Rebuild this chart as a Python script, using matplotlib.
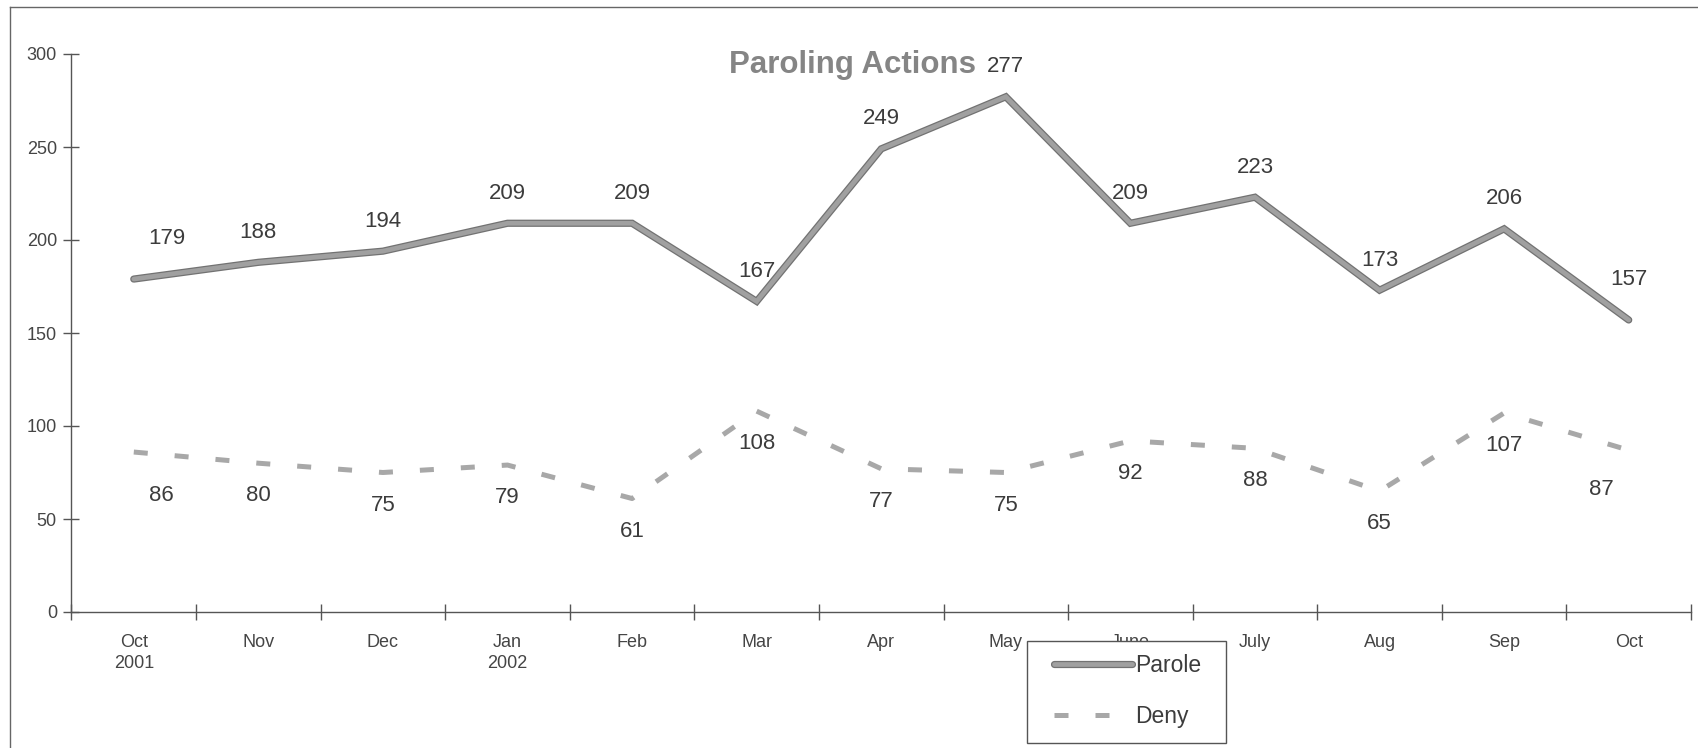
import matplotlib
matplotlib.use("Agg")
import matplotlib.pyplot as plt
import matplotlib.patheffects as pe
from matplotlib.lines import Line2D
from matplotlib.patches import Rectangle

plt.rcParams['font.family'] = ['Liberation Sans', 'DejaVu Sans']

months = ["Oct\n2001", "Nov", "Dec", "Jan\n2002", "Feb", "Mar", "Apr",
          "May", "June", "July", "Aug", "Sep", "Oct"]
parole = [179, 188, 194, 209, 209, 167, 249, 277, 209, 223, 173, 206, 157]
deny = [86, 80, 75, 79, 61, 108, 77, 75, 92, 88, 65, 107, 87]

W, H = 1699, 748
fig = plt.figure(figsize=(W / 100, H / 100), dpi=100)
ax = fig.add_axes([71.5 / W, 1 - 612 / H, (1691 - 71.5) / W, (612 - 54) / H])

x = list(range(len(months)))
lp, = ax.plot(x, parole, color='#a0a0a0', lw=3.4, solid_capstyle='round',
              solid_joinstyle='miter',
              path_effects=[pe.Stroke(linewidth=5.2, foreground='#727272',
                                      capstyle='round'), pe.Normal()],
              label='Parole', zorder=3)
ld, = ax.plot(x, deny, color='#a8a8a8', lw=3.6, dashes=(2.8, 5.4),
              dash_capstyle='butt', label='Deny', zorder=3)

n = len(x)
for i, v in enumerate(parole):
    dx, dy = 0, 21.6
    if i == 0:
        dx, dy = 24, 29.5
    elif i == n - 1:
        dy = 29.5
    ax.annotate(str(v), (i, v), xytext=(dx, dy), textcoords='offset points',
                ha='center', va='center', fontsize=16, color='#3c3c3c')
for i, v in enumerate(deny):
    dx, dy = 0, -23.5
    if i == 0:
        dx, dy = 20, -31.5
    elif i == n - 1:
        dx, dy = -20, -28
    ax.annotate(str(v), (i, v), xytext=(dx, dy), textcoords='offset points',
                ha='center', va='center', fontsize=16, color='#3c3c3c')

ax.set_xlim(-0.5, n - 0.5)
ax.set_ylim(0, 300)
ax.set_yticks([0, 50, 100, 150, 200, 250, 300])
ax.set_xticks([i + 0.5 for i in range(-1, n)])
ax.set_xticklabels([])
ax.set_xticks(x, minor=True)
ax.set_xticklabels(months, minor=True, fontsize=13, color='#454545', linespacing=1.3)
ax.tick_params(axis='x', which='minor', length=0, pad=16)
ax.tick_params(axis='x', which='major', direction='inout', length=12, width=1, color='#555555')
ax.tick_params(axis='y', direction='inout', length=11, width=1, color='#555555',
               labelsize=13, labelcolor='#454545', pad=5)
for s in ['top', 'right']:
    ax.spines[s].set_visible(False)
for s in ['left', 'bottom']:
    ax.spines[s].set_color('#555555')
    ax.spines[s].set_linewidth(1.0)

fig.text(853 / W, 1 - 73 / H, "Paroling Actions", ha='center', va='baseline',
         fontsize=22.5, fontweight='bold', color='#858585')

# outer chart border (left and top edges visible)
fig.add_artist(Line2D([10 / W, 10 / W], [0, 1 - 7 / H], transform=fig.transFigure,
                      color='#666666', lw=1.0))
fig.add_artist(Line2D([10 / W, 1], [1 - 7 / H, 1 - 7 / H], transform=fig.transFigure,
                      color='#666666', lw=1.0))

# legend box
fig.add_artist(Rectangle((1027 / W, 1 - 743 / H), (1226 - 1027) / W, (743 - 641) / H,
                         transform=fig.transFigure, facecolor='white',
                         edgecolor='#555555', lw=1.0, zorder=4))
leg = fig.legend(handles=[lp, ld], loc='center',
                 bbox_to_anchor=(1128 / W, 1 - 691 / H), fontsize=16.5,
                 frameon=False, handlelength=3.4, handletextpad=0.15,
                 labelspacing=1.25, borderpad=0.0, borderaxespad=0)
leg.set_zorder(5)
for t in leg.get_texts():
    t.set_color('#3c3c3c')

fig.savefig("out.png", dpi=100, facecolor='white')
